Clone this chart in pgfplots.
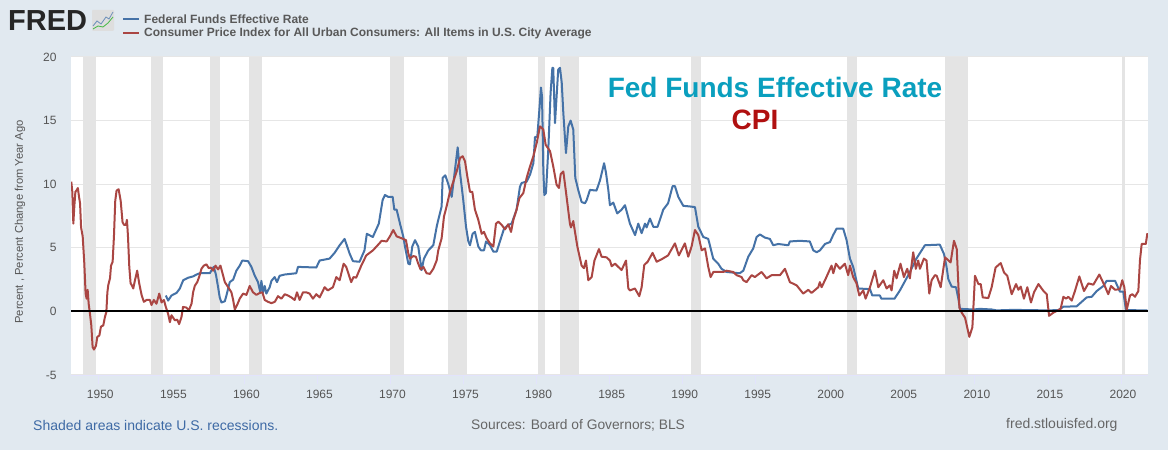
\documentclass[border=0pt]{standalone}
\usepackage{pgfplots}
\pgfplotsset{compat=1.18}
\usepackage{fontspec}
\setmainfont{Liberation Sans}
\definecolor{bg}{HTML}{E1E9F0}
\definecolor{rec}{HTML}{E4E4E4}
\definecolor{gridc}{HTML}{E6E6E6}
\definecolor{ffblue}{HTML}{4572A7}
\definecolor{cpired}{HTML}{AA4643}
\definecolor{txt}{HTML}{555555}
\definecolor{teal}{HTML}{0A9FBE}
\definecolor{dred}{HTML}{B01010}
\definecolor{foot}{HTML}{3E6AA5}
\begin{document}
\begin{tikzpicture}[x=1pt,y=1pt]
\fill[bg] (0,0) rectangle (1168,450);
\begin{axis}[
  at={(71pt,75pt)},anchor=south west,
  scale only axis,width=1077pt,height=318pt,
  xmin=1948.13,xmax=2021.85,ymin=-5,ymax=20,
  axis x line=bottom,axis y line=left,
  x axis line style={draw=black!0!bg!70!blue!30!white,-},
  y axis line style={draw=none},
  axis background/.style={fill=white},
  xtick={1950,1955,...,2020},
  ytick={-5,0,5,10,15,20},
  x tick label style={/pgf/number format/1000 sep={},/pgf/number format/assume math mode=true,xshift=2pt,yshift=-3pt},
  y tick label style={/pgf/number format/assume math mode=true,xshift=-2pt},
  tick label style={font=\fontsize{12}{14}\selectfont,text=txt},
  tick align=outside,
  xtick style={draw=bg!70!blue!30!white,line width=0.8pt},
  ytick style={draw=none},
  major tick length=9pt,
  ymajorgrids,grid style={gridc,line width=1pt},
  clip=true,
]
% recessions
\addplot[fill=rec,draw=none] coordinates {(1948.92,-5)(1949.83,-5)(1949.83,20)(1948.92,20)} --cycle;
\addplot[fill=rec,draw=none] coordinates {(1953.58,-5)(1954.42,-5)(1954.42,20)(1953.58,20)} --cycle;
\addplot[fill=rec,draw=none] coordinates {(1957.67,-5)(1958.33,-5)(1958.33,20)(1957.67,20)} --cycle;
\addplot[fill=rec,draw=none] coordinates {(1960.33,-5)(1961.17,-5)(1961.17,20)(1960.33,20)} --cycle;
\addplot[fill=rec,draw=none] coordinates {(1969.97,-5)(1970.9,-5)(1970.9,20)(1969.97,20)} --cycle;
\addplot[fill=rec,draw=none] coordinates {(1973.92,-5)(1975.25,-5)(1975.25,20)(1973.92,20)} --cycle;
\addplot[fill=rec,draw=none] coordinates {(1980.08,-5)(1980.58,-5)(1980.58,20)(1980.08,20)} --cycle;
\addplot[fill=rec,draw=none] coordinates {(1981.58,-5)(1982.92,-5)(1982.92,20)(1981.58,20)} --cycle;
\addplot[fill=rec,draw=none] coordinates {(1990.58,-5)(1991.25,-5)(1991.25,20)(1990.58,20)} --cycle;
\addplot[fill=rec,draw=none] coordinates {(2001.25,-5)(2001.9,-5)(2001.9,20)(2001.25,20)} --cycle;
\addplot[fill=rec,draw=none] coordinates {(2007.98,-5)(2009.5,-5)(2009.5,20)(2007.98,20)} --cycle;
\addplot[fill=rec,draw=none] coordinates {(2020.1,-5)(2020.3,-5)(2020.3,20)(2020.1,20)} --cycle;
% Federal funds rate
\addplot[ffblue,line width=2pt,line join=round] coordinates {
(1954.62,1.25)(1954.78,.85)(1955.01,1.25)(1955.35,1.45)(1955.58,1.8)(1955.81,2.45)(1956.15,2.65)(1956.49,2.75)(1956.72,2.9)(1956.95,3.0)(1957.63,3.0)(1957.9,3.5)(1958.05,2.9)(1958.2,1.9)(1958.31,1.1)(1958.43,.7)(1958.66,.8)(1958.77,1.25)(1959.0,2.3)(1959.23,2.5)(1959.45,3.2)(1959.68,3.6)(1959.86,4.0)(1960.25,3.95)(1960.48,3.5)(1960.71,2.8)(1960.93,2.3)(1961.09,1.5)(1961.16,2.4)(1961.28,1.5)(1961.39,2.0)(1961.5,1.4)(1961.73,1.9)(1961.85,2.4)(1962.07,2.7)(1962.23,2.3)(1962.41,2.8)(1962.76,2.9)(1963.55,3.0)(1963.67,3.5)(1964.92,3.45)(1965.15,4.0)(1965.83,4.15)(1966.17,4.6)(1966.52,5.2)(1966.86,5.7)(1967.2,4.55)(1967.43,3.95)(1967.88,3.9)(1968.22,4.8)(1968.38,6.1)(1968.79,5.85)(1969.2,6.9)
(1969.46,8.75)(1969.62,9.15)(1969.85,9.0)(1970.15,9.0)(1970.26,8.0)(1970.42,8.0)(1970.65,6.9)(1970.88,5.85)(1970.99,5.1)(1971.22,3.75)(1971.33,3.7)(1971.49,5.1)(1971.68,5.6)(1971.9,5.1)(1972.13,3.25)(1972.29,4.15)(1972.59,4.8)(1972.93,5.2)(1973.16,6.65)(1973.27,7.2)(1973.5,8.25)(1973.57,10.5)(1973.75,10.7)(1973.96,10.0)(1974.19,9.0)(1974.41,11.1)(1974.6,12.9)(1974.76,10.9)(1974.98,8.75)(1975.17,6.65)(1975.33,5.5)(1975.44,5.2)(1975.62,6.1)(1975.78,6.25)(1976.01,5.1)(1976.19,4.8)(1976.4,4.8)(1976.54,5.5)(1976.81,5.2)(1977.04,4.7)(1977.27,4.7)(1977.49,5.5)(1977.77,6.5)(1978.06,6.8)(1978.29,6.9)(1978.63,8.0)(1978.86,9.8)(1978.98,10.1)(1979.32,10.2)(1979.55,10.75)(1979.78,11.65)(1979.89,13.7)(1980.05,13.75)(1980.19,15.85)(1980.3,17.6)(1980.37,16.9)(1980.41,14.55)(1980.46,11.1)(1980.53,9.15)(1980.64,9.3)(1980.8,12.7)(1980.96,17.2)(1981.08,19.15)(1981.14,19.15)(1981.26,14.8)(1981.37,16.9)(1981.48,19.0)(1981.6,19.15)(1981.72,18.0)(1981.83,15.6)(1982.01,12.45)(1982.17,14.55)(1982.33,15.0)(1982.51,14.3)(1982.65,10.5)(1982.85,9.55)(1983.08,8.6)(1983.31,8.5)(1983.43,8.75)(1983.65,9.55)(1984.1,9.5)(1984.34,10.3)(1984.62,11.65)(1984.75,10.9)(1984.91,9.55)(1985.02,8.35)(1985.25,8.55)(1985.52,7.7)(1985.82,8.0)(1986.05,8.35)(1986.39,6.9)(1986.74,6.0)(1986.96,6.9)(1987.19,6.15)(1987.42,6.9)(1987.53,6.6)(1987.76,7.3)(1987.99,6.65)(1988.28,6.65)(1988.67,8.0)(1989.0,8.5)(1989.31,9.85)(1989.47,9.85)(1989.7,9.0)(1990.04,8.3)(1990.5,8.25)(1990.84,8.2)(1991.07,6.65)(1991.18,6.4)(1991.41,5.85)(1991.75,5.7)(1992.09,4.15)(1992.43,3.75)(1992.66,3.35)(1993.0,3.1)(1993.9,3.0)(1994.15,3.2)(1994.49,4.3)(1994.83,4.95)(1995.06,5.85)(1995.29,6.05)(1995.63,5.8)(1995.97,5.7)(1996.2,5.2)(1996.54,5.3)(1997.23,5.2)(1997.34,5.5)(1998.02,5.55)(1998.7,5.5)(1998.94,4.8)(1999.17,4.65)(1999.4,4.8)(1999.74,5.3)(2000.08,5.45)(2000.3,6.0)(2000.53,6.5)(2000.99,6.5)(2001.22,5.6)(2001.45,4.15)(2001.67,3.5)(2002.02,1.8)(2002.82,1.75)(2002.98,1.25)(2003.5,1.25)(2003.6,1.0)(2004.5,1.0)(2004.87,1.65)(2005.44,2.85)(2006.0,4.15)(2006.58,5.2)(2007.6,5.25)(2007.89,4.5)(2008.07,3.45)(2008.18,2.55)(2008.41,1.95)(2008.71,1.9)(2008.87,1.0)(2008.98,0.2)(2009.9,0.15)(2010.35,0.2)(2011.15,0.15)(2011.49,0.08)(2012.63,0.12)(2013.77,0.1)(2014.92,0.08)(2015.71,0.1)(2016.06,0.37)(2016.97,0.4)(2017.65,1.1)(2018.0,1.15)(2018.34,1.6)(2018.8,2.0)(2019.02,2.4)(2019.6,2.4)(2019.93,1.55)(2020.16,1.55)(2020.34,0.1)(2021.81,0.08)};
% CPI
\addplot[cpired,line width=2pt,line join=round] coordinates {
(1948.15,10.2)(1948.22,9.4)(1948.29,6.9)(1948.36,8.3)(1948.43,9.4)(1948.5,9.5)(1948.6,9.7)(1948.68,9.0)(1948.75,8.5)(1948.82,6.6)(1948.93,5.9)(1949.04,3.8)(1949.13,1.4)(1949.2,1.0)(1949.27,1.7)(1949.34,0.6)(1949.43,-0.2)(1949.52,-1.1)(1949.61,-2.8)(1949.7,-3.0)(1949.84,-2.7)(1949.93,-2.0)(1950.07,-1.9)(1950.18,-1.2)(1950.34,-1.1)(1950.45,-0.45)(1950.55,-0.05)(1950.62,1.5)(1950.68,2.05)(1950.8,2.6)(1950.87,3.6)(1950.98,3.9)(1951.07,5.9)(1951.16,8.7)(1951.25,9.5)(1951.39,9.6)(1951.53,8.7)(1951.66,7.0)(1951.77,6.8)(1951.89,6.8)(1951.96,7.2)(1952.03,5.9)(1952.12,3.5)(1952.21,2.2)(1952.3,2.05)(1952.39,1.8)(1952.5,2.4)(1952.66,3.2)(1952.8,2.2)(1952.96,1.3)(1953.12,0.75)(1953.3,0.9)(1953.53,0.9)(1953.64,0.5)(1953.8,0.9)(1953.98,0.6)(1954.17,1.4)(1954.33,0.7)(1954.49,0.9)(1954.62,0.35)(1954.78,-0.2)(1954.9,-0.85)(1955.01,-0.3)(1955.24,-0.7)(1955.4,-0.65)(1955.53,-1.0)(1955.69,-0.45)(1955.8,0.35)(1956.03,0.3)(1956.2,0.1)(1956.38,0.6)(1956.49,1.5)(1956.6,2.0)(1956.77,2.3)(1956.9,2.7)(1957.06,3.35)(1957.22,3.6)(1957.4,3.7)(1957.56,3.4)(1957.7,3.45)(1957.86,3.2)(1958.02,3.6)(1958.2,3.3)(1958.36,3.6)(1958.5,3.0)(1958.66,2.3)(1958.89,1.9)(1959.11,1.5)(1959.23,0.9)(1959.34,0.15)(1959.5,0.5)(1959.68,1.0)(1959.91,1.4)(1960.14,1.3)(1960.36,2.0)(1960.59,1.5)(1960.82,1.3)(1961.05,1.45)(1961.23,1.5)(1961.39,0.9)(1961.62,0.75)(1961.85,0.65)(1962.08,0.75)(1962.3,1.2)(1962.53,1.0)(1962.76,1.35)(1962.98,1.25)(1963.21,1.1)(1963.44,0.9)(1963.6,1.5)(1963.78,0.9)(1964.01,1.5)(1964.24,1.5)(1964.46,1.4)(1964.69,1.0)(1964.92,1.35)(1965.15,1.1)(1965.49,1.9)(1965.71,1.65)(1966.06,1.9)(1966.29,2.7)(1966.52,2.45)(1966.79,3.75)(1966.97,3.5)(1967.31,2.3)(1967.47,2.7)(1967.65,2.65)(1968.0,3.6)(1968.34,4.4)(1968.8,4.8)(1969.2,5.3)
(1969.39,5.55)(1969.74,5.5)(1969.96,5.9)(1970.19,6.4)(1970.42,5.9)(1970.76,5.75)(1971.06,5.6)(1971.22,4.55)(1971.33,4.15)(1971.56,4.35)(1971.74,4.3)(1971.9,3.75)(1972.06,3.3)(1972.25,3.5)(1972.47,3.0)(1972.7,2.95)(1972.93,3.35)(1973.16,4.0)(1973.27,4.8)(1973.5,5.75)(1973.66,7.45)(1973.84,8.25)(1974.07,9.4)(1974.3,10.2)(1974.53,11.0)(1974.76,12.05)(1974.94,12.2)(1975.1,11.8)(1975.26,10.6)(1975.44,9.4)(1975.6,9.4)(1975.78,8.0)(1976.01,7.2)(1976.24,6.1)(1976.4,6.25)(1976.58,5.75)(1976.81,5.35)(1977.04,5.1)(1977.22,6.9)(1977.38,7.05)(1977.61,6.8)(1977.84,6.45)(1978.06,6.85)(1978.25,6.25)(1978.41,7.2)(1978.63,8.0)(1978.82,8.9)(1979.09,9.3)(1979.32,10.5)(1979.55,11.4)(1979.78,12.2)(1980.0,13.2)(1980.23,14.55)(1980.46,14.3)(1980.62,13.1)(1980.92,12.6)(1981.14,11.4)(1981.37,9.95)(1981.53,9.7)(1981.65,10.8)(1981.83,11.0)(1982.01,9.4)(1982.28,6.9)(1982.35,6.6)(1982.51,7.1)(1982.79,5.1)(1983.08,3.6)(1983.24,3.4)(1983.38,4.0)(1983.54,2.45)(1983.77,2.7)(1983.96,4.0)(1984.27,4.9)(1984.45,4.3)(1984.79,4.25)(1985.02,4.0)(1985.14,3.55)(1985.37,3.75)(1985.59,3.5)(1985.82,3.25)(1986.12,4.0)(1986.28,1.8)(1986.39,1.65)(1986.73,1.8)(1987.03,1.2)(1987.19,1.9)(1987.37,3.65)(1987.6,3.9)(1987.94,4.6)(1988.22,3.9)(1988.56,4.1)(1989.0,4.4)(1989.47,5.35)(1989.74,4.4)(1990.15,5.35)(1990.38,4.3)(1990.61,5.1)(1990.84,6.4)(1991.07,6.0)(1991.3,4.8)(1991.53,4.95)(1991.75,3.5)(1991.91,2.7)(1992.1,3.1)
(1992.32,3.1)(1992.78,3.1)(1993.0,3.2)(1993.46,3.1)(1993.69,2.85)(1994.03,2.7)(1994.15,2.45)(1994.37,2.3)(1994.72,2.85)(1994.94,2.7)(1995.4,3.1)(1995.74,2.6)(1996.09,2.85)(1996.66,2.85)(1997.0,3.35)(1997.34,2.3)(1997.8,2.05)(1998.25,1.4)(1998.6,1.7)(1998.82,1.45)(1999.28,1.9)(1999.39,2.3)(1999.51,1.9)(1999.8,2.6)(2000.19,3.6)(2000.31,3.0)(2000.49,3.75)(2000.76,3.35)(2001.1,3.75)(2001.33,2.85)(2001.45,3.6)(2001.67,2.7)(2001.9,2.2)(2002.09,1.25)(2002.36,1.65)(2002.52,1.0)(2002.82,1.9)(2003.16,3.2)(2003.39,1.9)(2003.73,2.45)(2003.96,1.8)(2004.18,2.05)(2004.3,1.65)(2004.48,3.2)(2004.64,2.6)(2004.91,3.75)(2005.14,2.7)(2005.37,3.35)(2005.55,2.6)(2005.78,4.65)(2005.96,3.35)(2006.12,4.0)(2006.24,3.35)(2006.51,4.15)(2006.69,4.0)(2006.88,1.4)(2007.04,2.45)(2007.27,2.85)(2007.39,2.8)(2007.66,1.9)(2007.96,4.25)(2008.34,3.85)(2008.57,5.55)(2008.76,4.9)(2008.94,0.3)(2009.1,-0.1)(2009.33,-0.5)(2009.62,-2.0)(2009.83,-1.25)(2010.01,2.8)(2010.24,2.15)(2010.4,2.15)(2010.54,1.1)(2010.92,1.05)(2011.15,1.9)(2011.42,3.45)(2011.77,3.8)(2012.0,3.05)(2012.22,2.8)(2012.52,1.35)(2012.82,2.15)(2012.98,1.7)(2013.14,1.95)(2013.36,1.0)(2013.59,1.9)(2013.84,0.7)(2014.05,1.5)(2014.35,2.15)(2014.7,1.6)(2014.92,1.35)(2015.08,-0.35)(2015.37,-0.1)(2015.71,0.1)(2015.87,0.2)(2016.06,1.15)(2016.24,1.0)(2016.4,1.15)(2016.63,0.85)(2016.85,1.6)(2017.15,2.75)(2017.47,1.6)(2017.77,2.2)(2018.11,2.1)(2018.52,2.9)(2018.91,1.95)(2019.13,1.35)(2019.32,2.0)(2019.59,1.7)(2019.93,1.75)(2020.09,2.45)(2020.23,1.9)(2020.39,0.1)(2020.62,1.25)(2020.78,1.35)(2020.96,1.15)(2021.19,1.6)(2021.3,4.0)(2021.42,5.3)(2021.7,5.3)(2021.81,6.15)};
% zero line
\addplot[black,line width=2.2pt] coordinates {(1948.13,0)(2021.85,0)};
\end{axis}
% y-axis title
\node[rotate=90,text=txt,font=\fontsize{11.2}{14}\selectfont] at (20,228) {Percent , Percent Change from Year Ago};
% FRED logo
\node[anchor=west,inner sep=0,font=\fontsize{29}{30}\bfseries\selectfont,text=black!85] at (8,429) {FRED};
\fill[rounded corners=1pt,black!13] (92,419) rectangle (114,440);
\draw[ffblue!80,line width=.8pt] (93,424)--(97,429)--(101,426)--(106,433)--(109,431)--(113,438);
\draw[green!45!gray,line width=.8pt] (93,421)--(98,424)--(103,423)--(108,427)--(113,433);
% legend
\draw[ffblue,line width=2pt] (123,430.5)--(139,430.5);
\draw[cpired,line width=2pt] (123,416.5)--(139,416.5);
\node[anchor=west,inner sep=0,text=black!65,font=\fontsize{12}{14}\bfseries\selectfont] at (144,430.5) {Federal Funds Effective Rate};
\node[anchor=west,inner sep=0,text=black!65,font=\fontsize{12}{14}\bfseries\selectfont] at (144,416.5) {Consumer Price Index for All Urban Consumers: All Items in U.S. City Average};
% annotations
\node[inner sep=0,text=teal,font=\fontsize{28}{30}\bfseries\selectfont] at (775,363) {Fed Funds Effective Rate};
\node[inner sep=0,text=dred,font=\fontsize{28}{30}\bfseries\selectfont] at (755,330) {CPI};
% footer
\node[anchor=west,inner sep=0,text=foot,font=\fontsize{14}{16}\selectfont] at (33,25) {Shaded areas indicate U.S. recessions.};
\node[anchor=west,inner sep=0,text=txt!90,font=\fontsize{13.8}{16}\selectfont] at (471,25) {Sources: Board of Governors; BLS};
\node[anchor=west,inner sep=0,text=txt!90,font=\fontsize{14}{16}\selectfont] at (1006,25) {fred.stlouisfed.org};
\end{tikzpicture}
\end{document}
